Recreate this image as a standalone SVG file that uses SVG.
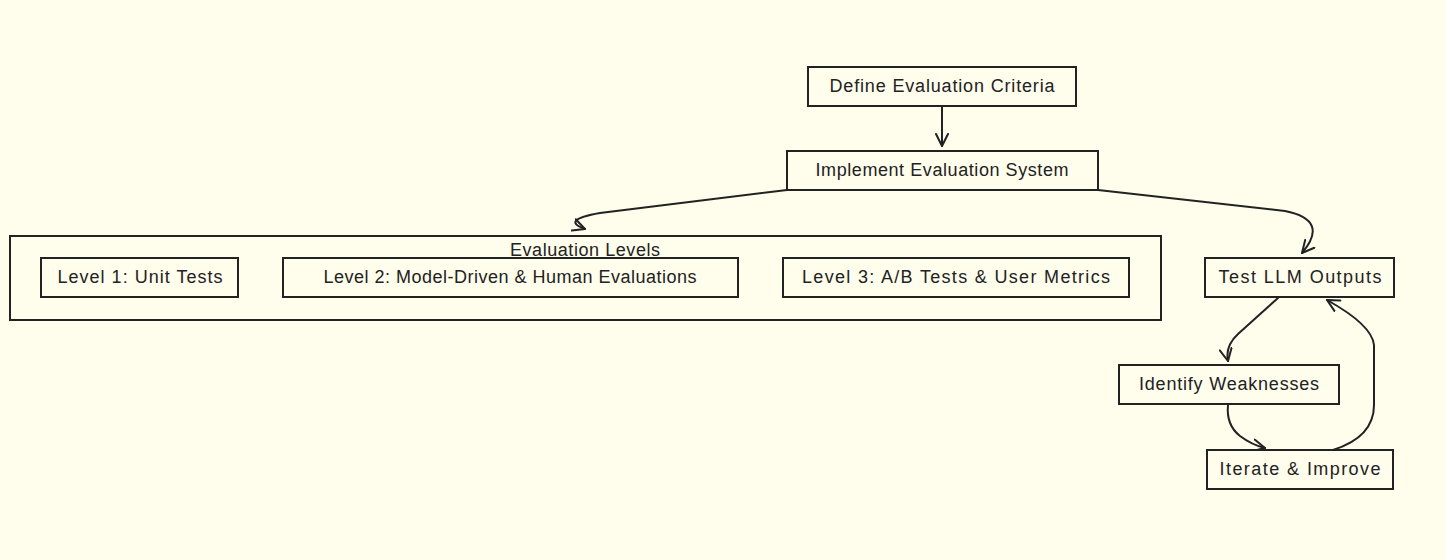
<svg xmlns="http://www.w3.org/2000/svg" width="1446" height="560" viewBox="0 0 1446 560">
<style>
.bg{fill:#fffdec}
.box{fill:#fffdec;stroke:#222;stroke-width:2}
.clu{fill:#fffdec;stroke:#222;stroke-width:2}
.lbl{font-family:"Liberation Sans","DejaVu Sans",sans-serif;font-size:18px;fill:#222;text-anchor:middle;dominant-baseline:central}
.edge{fill:none;stroke:#222;stroke-width:2;stroke-linecap:round;stroke-linejoin:round}
</style>
<defs>
<marker id="arr" viewBox="0 0 14 14" refX="13" refY="7" markerWidth="14" markerHeight="14" markerUnits="userSpaceOnUse" orient="auto">
<path d="M1,1 L13,7 L1,13" fill="none" stroke="#222" stroke-width="2" stroke-linecap="round" stroke-linejoin="round"/>
</marker>
</defs>
<rect class="bg" x="0" y="0" width="1446" height="560"/>

<g id="cluster-levels">
<rect class="clu" x="10" y="236" width="1151" height="84"/>
<text class="lbl" x="585" y="250" textLength="150" lengthAdjust="spacing">Evaluation Levels</text>
</g>

<g id="connectors">
<path class="edge" d="M942,107 L942,146" marker-end="url(#arr)"/>
<path class="edge" d="M787,190 L600,213 Q560,220 585,229" marker-end="url(#arr)"/>
<path class="edge" d="M1098,190 L1285,211 Q1330,220 1302,253" marker-end="url(#arr)"/>
<path class="edge" d="M1278,298 L1238,334 Q1225,346 1228,361" marker-end="url(#arr)"/>
<path class="edge" d="M1228,405 Q1226,425 1240,436 Q1252,445 1265,448" marker-end="url(#arr)"/>
<path class="edge" d="M1333,450 Q1374,437 1374,405 L1374,345 Q1372,325 1327,300" marker-end="url(#arr)"/>
</g>

<g id="node-define">
<rect class="box" x="808" y="67" width="268" height="39"/>
<text class="lbl" x="942" y="86" textLength="225" lengthAdjust="spacing">Define Evaluation Criteria</text>
</g>
<g id="node-implement">
<rect class="box" x="787" y="151" width="311" height="39"/>
<text class="lbl" x="942" y="170" textLength="253" lengthAdjust="spacing">Implement Evaluation System</text>
</g>
<g id="node-level1">
<rect class="box" x="41" y="258" width="197" height="39"/>
<text class="lbl" x="140" y="277" textLength="165" lengthAdjust="spacing">Level 1: Unit Tests</text>
</g>
<g id="node-level2">
<rect class="box" x="283" y="258" width="455" height="39"/>
<text class="lbl" x="510" y="277" textLength="373" lengthAdjust="spacing">Level 2: Model-Driven &amp; Human Evaluations</text>
</g>
<g id="node-level3">
<rect class="box" x="783" y="258" width="346" height="39"/>
<text class="lbl" x="956" y="277" textLength="308" lengthAdjust="spacing">Level 3: A/B Tests &amp; User Metrics</text>
</g>
<g id="node-test">
<rect class="box" x="1205" y="258" width="189" height="39"/>
<text class="lbl" x="1300" y="277" textLength="163" lengthAdjust="spacing">Test LLM Outputs</text>
</g>
<g id="node-identify">
<rect class="box" x="1119" y="365" width="220" height="39"/>
<text class="lbl" x="1229" y="384" textLength="180" lengthAdjust="spacing">Identify Weaknesses</text>
</g>
<g id="node-iterate">
<rect class="box" x="1207" y="450" width="186" height="39"/>
<text class="lbl" x="1300" y="469" textLength="161" lengthAdjust="spacing">Iterate &amp; Improve</text>
</g>
</svg>
